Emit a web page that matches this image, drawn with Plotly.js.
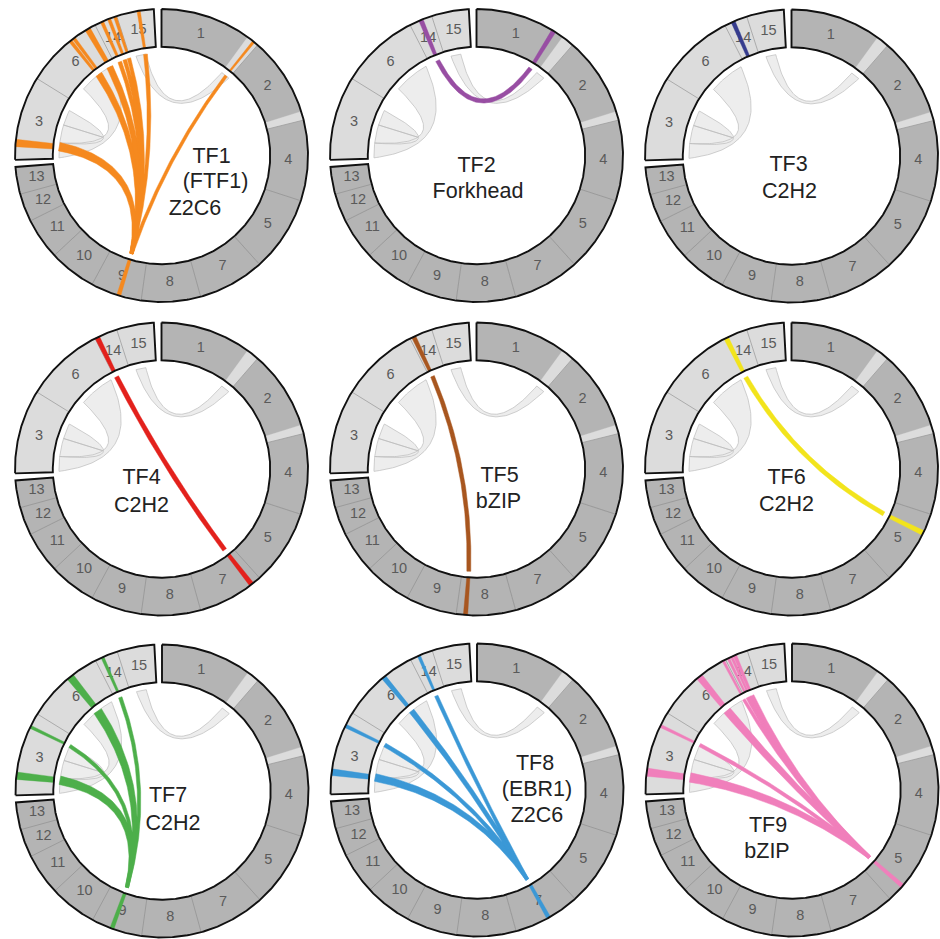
<!DOCTYPE html>
<html><head><meta charset="utf-8">
<script src="https://cdn.plot.ly/plotly-3.0.1.min.js"></script>
<style>html,body{margin:0;padding:0;background:#fff;} #chart{width:940px;height:939px;}</style>
</head><body><div id="chart"></div>
<script>
// ---------------- DATA ----------------
// chromosomes in drawing order (clockwise from top), sizes in angular units
const chromNames = ['1','2','4','5','7','8','9','10','11','12','13','3','6','14','15'];
const chromSizes = [41,35,32,30,26.5,23.5,20.3,18.7,16.5,11.2,10.8,33.4,31.3,9.2,14.8];
const chromCore  = [true,true,true,true,true,true,true,true,true,true,true,false,false,false,false];
const groupEndChrom = ['13','15'];
const groupGap = [2.8, 3.0];

// lineage-specific sub-regions on core chromosomes
const lsChrom = ['1','2'];
const lsStart = [36, 31.5];
const lsEnd   = [41, 35];

// background duplication links (end A / end B)
const dupChromA = ['1','6','3'];
const dupStartA = [36, 8.8, 19];
const dupEndA   = [41, 28.8, 27.7];
const dupChromB = ['15','3','3'];
const dupStartB = [3.4, 0.4, 8.7];
const dupEndB   = [9.0, 8.7, 19];

// transcription factors
const tfLabelLines = [['TF1','(FTF1)','Z2C6'],['TF2','Forkhead'],['TF3','C2H2'],['TF4','C2H2'],['TF5','bZIP'],['TF6','C2H2'],['TF7','C2H2'],['TF8','(EBR1)','Z2C6'],['TF9','bZIP']];
const tfColors = ['#f5891f','#984ea3','#363c8e','#e3211c','#a8561f','#f2e41c','#4daf4a','#3b98d6','#f07fbb'];
const tfHubChrom = ['9','1','14','7','8','5','9','7','5'];
const tfHubPos   = [9.0, 31.8, 3.5, 4.0, 19.8, 7.9, 12.0, 12.7, 23.0];
const tfHubWidth = [1.6, 1.8, 1.6, 1.9, 1.7, 1.9, 1.6, 1.6, 1.6];
const tfTargetChrom = [
  ['1','15','14','14','14','6','6','6','3'],
  ['14'], [], ['14'], ['14'], ['14'],
  ['14','6','3','3'],
  ['14','6','3','3'],
  ['6','14','14','14','6','3','3']
];
const tfTargetPos = [
  [39, 8.8, 3.0, 6.0, 8.5, 19.8, 21.5, 28.0, 6.6],
  [4.7], [], [1.0], [1.6], [0.5],
  [3.0, 19.5, 27.7, 7.7],
  [3.6, 18.7, 27.7, 8.7],
  [30.3, 1.2, 2.6, 4.0, 19.0, 27.7, 8.7]
];
const tfTargetWidth = [
  [1.0, 1.3, 1.3, 1.3, 1.2, 1.3, 1.3, 2.2, 2.9],
  [1.8], [], [1.9], [1.7], [1.9],
  [1.2, 3.0, 1.2, 2.9],
  [1.2, 1.9, 1.4, 2.6],
  [1.0, 1.0, 1.0, 1.4, 2.7, 1.2, 3.2]
];

// ---------------- LAYOUT CONFIG ----------------
const W = 940, HH = 939, R = 146.5, HALF = 158;
const panelCX = [161.5, 476.5, 791.5, 161.5, 476.5, 791.5, 162, 477, 792];
const panelCY = [155.5, 155.5, 156, 469, 469, 469, 791, 790, 790];
const labelOffsets = [
  [[50,2],[54,27],[33.5,54]],
  [[0,11.5],[1.5,37.5]],
  [[-3,10],[-2,37]],
  [[-20,10],[-20,38]],
  [[23,8],[22,34]],
  [[-5,10],[-5,37]],
  [[6,6],[11,34]],
  [[58,-25],[60,1],[60,27]],
  [[-24,37],[-25,63]]
];
const rIn = 0.742, rOut = 1.0, rChord = 0.70, bendK = 0.2, labelR = 0.866;
const chordTargetScale = 1.15;   // chord width at target relative to ring-bar pixel width
const singleChordScale = 0.9;    // one-to-one links: uniform chord width relative to bar
const hubEndPx = 3.2;            // chord width (px) where many chords meet at the hub
const DARK = '#b4b4b4', LIGHT = '#dcdcdc';
const FONT = 'Liberation Sans, Arial, Helvetica, sans-serif';

// ---------------- GEOMETRY ----------------
const chromStart = {}, chromIdx = {};
(function(){
  let cur = 0;
  chromNames.forEach((c,i) => {
    chromStart[c] = cur; chromIdx[c] = i;
    cur += chromSizes[i];
    const g = groupEndChrom.indexOf(c);
    if (g >= 0) cur += groupGap[g];
  });
})();
const ang = (c, p) => chromStart[c] + p;
const degPx = d => d*Math.PI/180*R*rOut;

function P(theta, r){ const a = theta*Math.PI/180; return [r*Math.sin(a), r*Math.cos(a)]; }
function arc(t1, t2, r){
  const n = Math.max(2, Math.ceil(Math.abs(t2-t1)/0.5)+1), out = [];
  for (let k=0;k<n;k++) out.push(P(t1+(t2-t1)*k/(n-1), r));
  return out;
}
function bez(p0, p2, n){
  n = n || 60;
  const c = [bendK*(p0[0]+p2[0])/2, bendK*(p0[1]+p2[1])/2], out = [];
  for (let k=0;k<=n;k++){ const t=k/n, u=1-t;
    out.push([u*u*p0[0]+2*u*t*c[0]+t*t*p2[0], u*u*p0[1]+2*u*t*c[1]+t*t*p2[1]]); }
  return out;
}
function sector(t1,t2,r1,r2){ return arc(t1,t2,r2).concat(arc(t2,t1,r1)); }
function ribbon(a1,a2,b1,b2,r){
  const A = arc(a1,a2,r), B = arc(b1,b2,r);
  return A.concat(bez(A[A.length-1], B[0])).concat(B).concat(bez(B[B.length-1], A[0]));
}
// chord as a band of varying width (px) around the centre bezier
function band(t0, t1, w0px, w1px){
  const p0 = P(t0, rChord), p2 = P(t1, rChord);
  const c = [bendK*(p0[0]+p2[0])/2, bendK*(p0[1]+p2[1])/2];
  const n = 80, L = [], Rt = [];
  for (let k=0;k<=n;k++){
    const t=k/n, u=1-t;
    const x = u*u*p0[0]+2*u*t*c[0]+t*t*p2[0], y = u*u*p0[1]+2*u*t*c[1]+t*t*p2[1];
    let dx = 2*u*(c[0]-p0[0]) + 2*t*(p2[0]-c[0]), dy = 2*u*(c[1]-p0[1]) + 2*t*(p2[1]-c[1]);
    const m = Math.hypot(dx,dy) || 1; dx/=m; dy/=m;
    const hw = (w0px + (w1px-w0px)*t)/2/R;
    L.push([x - dy*hw, y + dx*hw]); Rt.push([x + dy*hw, y - dx*hw]);
  }
  return L.concat(Rt.reverse());
}
function collect(polys, close){
  const x=[], y=[];
  polys.forEach(p => { p.forEach(q => { x.push(q[0]); y.push(q[1]); });
    if (close) { x.push(p[0][0]); y.push(p[0][1]); }
    x.push(null); y.push(null); });
  return {x, y};
}
function fillTrace(polys, fill, lc, lw, xa, ya){
  const d = collect(polys, true);
  return {type:'scatter', mode:'lines', x:d.x, y:d.y, fill:'toself', fillcolor:fill,
    line:{color:lc, width:lw}, xaxis:xa, yaxis:ya, hoverinfo:'skip', showlegend:false};
}
function lineTrace(polys, lc, lw, xa, ya, close){
  const d = collect(polys, close);
  return {type:'scatter', mode:'lines', x:d.x, y:d.y, line:{color:lc, width:lw},
    xaxis:xa, yaxis:ya, hoverinfo:'skip', showlegend:false};
}

// ---------------- BUILD ----------------
const traces = [];
const layout = {width:W, height:HH, margin:{l:0,r:0,t:0,b:0}, paper_bgcolor:'#fff',
  plot_bgcolor:'rgba(0,0,0,0)', showlegend:false};

const groups = [];
(function(){
  let g = [];
  chromNames.forEach(c => { g.push(c); if (groupEndChrom.includes(c)) { groups.push(g); g = []; } });
})();

for (let i=0;i<9;i++){
  const n = i+1, xa = n===1?'x':'x'+n, ya = n===1?'y':'y'+n;
  const cx = panelCX[i], cy = panelCY[i];
  const px0 = Math.max(0, cx-HALF), px1 = Math.min(W, cx+HALF);
  const py0 = Math.max(0, cy-HALF), py1 = Math.min(HH, cy+HALF);
  layout[n===1?'xaxis':'xaxis'+n] = {domain:[px0/W, px1/W], range:[(px0-cx)/R, (px1-cx)/R],
    visible:false, fixedrange:true, anchor:ya};
  layout[n===1?'yaxis':'yaxis'+n] = {domain:[1-py1/HH, 1-py0/HH], range:[(cy-py1)/R, (cy-py0)/R],
    visible:false, fixedrange:true, anchor:xa};

  // segments
  const dark = [], light = [];
  chromNames.forEach((c,k) => {
    const s = chromStart[c], e = s + chromSizes[k];
    (chromCore[k] ? dark : light).push(sector(s, e, rIn, rOut));
  });
  lsChrom.forEach((c,k) => light.push(sector(ang(c,lsStart[k]), ang(c,lsEnd[k]), rIn, rOut)));
  traces.push(fillTrace(dark, DARK, DARK, 0.3, xa, ya));
  traces.push(fillTrace(light, LIGHT, LIGHT, 0.3, xa, ya));

  // boundaries inside groups
  const bl = [];
  groups.forEach(g => { for (let k=1;k<g.length;k++){ const t = chromStart[g[k]]; bl.push([P(t,rIn),P(t,rOut)]); } });
  traces.push(lineTrace(bl, '#8a8a8a', 0.6, xa, ya, false));

  // chromosome labels
  const lx=[], ly=[], lt=[];
  chromNames.forEach((c,k) => {
    let s = chromStart[c], e = s + chromSizes[k];
    const li = lsChrom.indexOf(c);
    if (li >= 0) e = ang(c, lsStart[li]);
    const p = P((s+e)/2, labelR); lx.push(p[0]); ly.push(p[1]); lt.push(c);
  });
  traces.push({type:'scatter', mode:'text', x:lx, y:ly, text:lt, textposition:'middle center',
    textfont:{family:FONT, size:14.5, color:'#5a5a5a'}, xaxis:xa, yaxis:ya, hoverinfo:'skip', showlegend:false});

  // background duplication ribbons
  const dup = dupChromA.map((c,k) => ribbon(ang(c,dupStartA[k]), ang(c,dupEndA[k]),
    ang(dupChromB[k],dupStartB[k]), ang(dupChromB[k],dupEndB[k]), rChord));
  traces.push(fillTrace(dup, '#ededed', '#bcbcbc', 0.7, xa, ya));

  // TF chords and ring bars
  const col = tfColors[i];
  const hubA = ang(tfHubChrom[i], tfHubPos[i]);
  const chords = [], bars = [];
  const tc = tfTargetChrom[i];
  tc.forEach((c,k) => {
    const ta = ang(c, tfTargetPos[i][k]), tw = tfTargetWidth[i][k];
    let w0, w1;
    if (tc.length > 1) { w0 = degPx(tw)*chordTargetScale; w1 = hubEndPx; }
    else { w0 = w1 = degPx(tw)*singleChordScale; }
    chords.push(band(ta, hubA, w0, w1));
    bars.push(sector(ta-tw/2, ta+tw/2, rIn, rOut));
  });
  bars.push(sector(hubA-tfHubWidth[i]/2, hubA+tfHubWidth[i]/2, rIn, rOut));
  if (chords.length) traces.push(fillTrace(chords, col, col, 0.5, xa, ya));
  traces.push(fillTrace(bars, col, col, 0.4, xa, ya));

  // group outlines
  const outl = groups.map(g => {
    const s = chromStart[g[0]], last = g[g.length-1];
    const e = chromStart[last] + chromSizes[chromIdx[last]];
    return sector(s, e, rIn, rOut);
  });
  traces.push(lineTrace(outl, '#111', 1.9, xa, ya, true));

  // centre label
  const cxs=[], cys=[], cts=[];
  tfLabelLines[i].forEach((t,k) => { cxs.push(labelOffsets[i][k][0]/R); cys.push(-labelOffsets[i][k][1]/R); cts.push(t); });
  traces.push({type:'scatter', mode:'text', x:cxs, y:cys, text:cts, textposition:'middle center',
    textfont:{family:FONT, size:21.5, color:'#222'}, xaxis:xa, yaxis:ya, hoverinfo:'skip', showlegend:false});
}

Plotly.newPlot('chart', traces, layout, {staticPlot:true, displayModeBar:false});
</script></body></html>
